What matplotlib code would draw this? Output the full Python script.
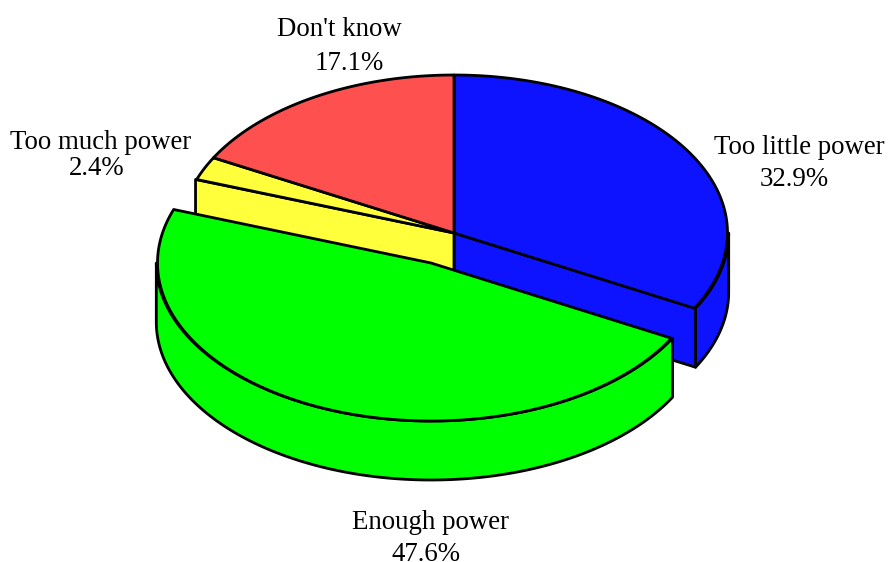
import numpy as np
import matplotlib
matplotlib.use("Agg")
import matplotlib.pyplot as plt
from matplotlib.patches import Polygon

labels = ["Too little power", "Enough power", "Too much power", "Don't know"]
shares = [32.9, 47.6, 2.4, 17.1]
colors = ["#0d13ff", "#00ff00", "#ffff3c", "#ff5050"]
explode_offset = [(0, 0), (-23, 30), (0, 0), (0, 0)]
# which cut faces show: (at start angle, at stop angle)
open_faces = [(False, True), (False, False), (True, False), (False, False)]
# label anchors: horizontal centre, text baseline
name_pos = [(799.5, 153.5), (431, 529), (101, 149), (339, 36)]
value_pos = [(794, 186), (425.5, 561), (97, 175), (349, 69.5)]

CENTER = (454, 233)
RX, RY = 273.5, 158
WALL_RX = RX + 1.2
DEPTH = 59
LW = 2.0
W, H = 889, 562

fig = plt.figure(figsize=(W / 100, H / 100), dpi=100)
ax = fig.add_axes([0, 0, 1, 1])
ax.set_xlim(0, W)
ax.set_ylim(H, 0)
ax.axis("off")


def rim(theta, c, rx=RX):
    """Point on an ellipse, theta clockwise from twelve o'clock."""
    return c[0] + rx * np.sin(theta), c[1] - RY * np.cos(theta)


def poly(points, color):
    ax.add_patch(Polygon(points, fc=color, ec="black", lw=LW, joinstyle="round"))


def draw_slice(start, stop, color, offset, faces):
    c = (CENTER[0] + offset[0], CENTER[1] + offset[1])
    # outer wall, on the half of the ellipse that faces the viewer
    lo, hi = max(start, np.pi / 2), min(stop, 3 * np.pi / 2)
    if hi > lo:
        tw = np.linspace(lo, hi, 200)
        wx, wy = rim(tw, c, WALL_RX)
        poly(np.r_[np.c_[wx, wy], np.c_[wx, wy + DEPTH][::-1]], color)
    # cut faces beside the pulled-out slice
    for a, show in zip((start, stop), faces):
        if show:
            px, py = rim(a, c, WALL_RX)
            poly([c, (px, py), (px, py + DEPTH), (c[0], c[1] + DEPTH)], color)
    # top surface
    th = np.linspace(start, stop, 200)
    x, y = rim(th, c)
    poly(np.r_[[c], np.c_[x, y]], color)


edges = np.cumsum([0] + shares) / sum(shares) * 2 * np.pi
# blue, yellow and red sit behind the pulled-out green slice
for i in (0, 2, 3, 1):
    draw_slice(edges[i], edges[i + 1], colors[i], explode_offset[i], open_faces[i])

for name, val, np_, vp in zip(labels, shares, name_pos, value_pos):
    ax.text(*np_, name, ha="center", va="baseline", family="Liberation Serif",
            fontsize=19.4, color="black")
    ax.text(*vp, f"{val:.1f}%", ha="center", va="baseline", family="Liberation Serif",
            fontsize=19.4, color="black")

fig.savefig("out.png", dpi=100)
